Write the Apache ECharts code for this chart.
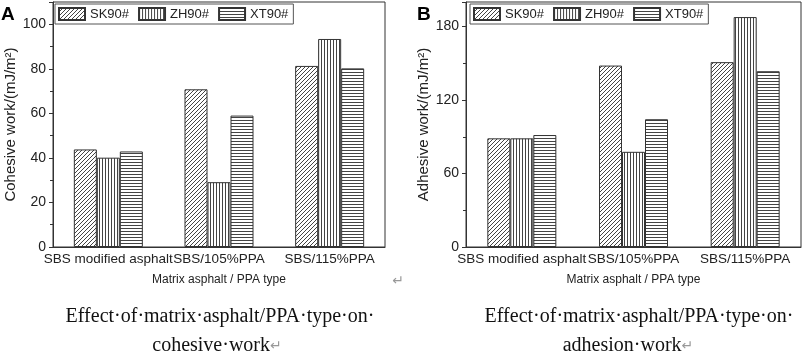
<!DOCTYPE html>
<html>
<head>
<meta charset="utf-8">
<script src="https://cdn.jsdelivr.net/npm/echarts@6/dist/echarts.min.js"></script>
<style>
  html, body { margin: 0; padding: 0; background: #fff; }
  #main { width: 803px; height: 363px; }
</style>
</head>
<body>
<div id="main"></div>
<script>
// data
const categories = ['SBS modified asphalt', 'SBS/105%PPA', 'SBS/115%PPA'];
const seriesNames = ['SK90#', 'ZH90#', 'XT90#'];
const cohesiveSK = [43.8, 70.8, 81.3];
const cohesiveZH = [40.1, 29.1, 93.4];
const cohesiveXT = [42.9, 59.0, 80.2];
const adhesionSK = [88.7, 148.1, 150.9];
const adhesionZH = [88.7, 77.7, 187.7];
const adhesionXT = [91.4, 104.3, 143.5];
const cohesiveTicks = { min: 0, max: 110, interval: 20 };
const adhesionTicks = { min: 0, max: 200, interval: 60 };

// hatch fills
function makePattern(kind) {
  const c = document.createElement('canvas');
  const ctx = c.getContext('2d');
  if (kind === 'diag') {
    c.width = c.height = 4;
    ctx.fillStyle = '#fff'; ctx.fillRect(0, 0, 4, 4);
    ctx.fillStyle = '#444';
    for (let i = 0; i < 4; i++) ctx.fillRect(i, 3 - i, 1, 1);
  } else if (kind === 'vert') {
    c.width = 3; c.height = 3;
    ctx.fillStyle = '#fff'; ctx.fillRect(0, 0, 3, 3);
    ctx.fillStyle = '#444'; ctx.fillRect(0, 0, 1, 3);
  } else {
    c.width = 3; c.height = 3;
    ctx.fillStyle = '#fff'; ctx.fillRect(0, 0, 3, 3);
    ctx.fillStyle = '#444'; ctx.fillRect(0, 0, 3, 1);
  }
  return { image: c, repeat: 'repeat' };
}
const fills = [makePattern('diag'), makePattern('vert'), makePattern('horz')];

const chart = echarts.init(document.getElementById('main'));

const fontFam = 'Arial, Liberation Sans';

function xAxisFor(idx) {
  return {
    type: 'category', gridIndex: idx, data: categories,
    axisLine: { lineStyle: { color: '#333' } },
    axisTick: { show: false },
    axisLabel: { fontFamily: fontFam, fontSize: 13.5, color: '#222', margin: 5, interval: 0 },
    name: 'Matrix asphalt / PPA type', nameLocation: 'middle', nameGap: 27,
    nameTextStyle: { fontFamily: fontFam, fontSize: 12, color: '#222' }
  };
}
function yAxisFor(idx, ticks, title) {
  return {
    type: 'value', gridIndex: idx, min: ticks.min, max: ticks.max, interval: ticks.interval,
    axisLine: { show: true, lineStyle: { color: '#333' } },
    axisTick: { show: true, inside: false, length: 4, lineStyle: { color: '#333' } },
    minorTick: { show: true, splitNumber: 2, length: 3, lineStyle: { color: '#333' } },
    splitLine: { show: false },
    axisLabel: { fontFamily: fontFam, fontSize: 14, color: '#222', margin: 7, showMaxLabel: false },
    name: title, nameLocation: 'middle', nameGap: 33,
    nameTextStyle: { fontFamily: fontFam, fontSize: 15, color: '#222' }
  };
}
function barSeries(name, data, i, gridIdx) {
  return {
    name: name, type: 'bar', data: data,
    xAxisIndex: gridIdx, yAxisIndex: gridIdx,
    barWidth: 23, barGap: '0%',
    itemStyle: { color: fills[i], borderColor: '#333', borderWidth: 1 },
    emphasis: { disabled: true }
  };
}
function legendFor(left) {
  return {
    left: left, top: 4, orient: 'horizontal',
    data: seriesNames, icon: 'rect',
    itemWidth: 26, itemHeight: 12, itemGap: 9,
    padding: [3, 5, 3, 3],
    borderColor: '#555', borderWidth: 1,
    textStyle: { fontFamily: fontFam, fontSize: 13, color: '#222' },
    selectedMode: false
  };
}

const option = {
  animation: false,
  backgroundColor: '#fff',
  grid: [
    { left: 53, right: 418, top: 2, bottom: 116, show: true, borderColor: '#333', borderWidth: 1, backgroundColor: 'transparent' },
    { left: 466, right: 2, top: 2, bottom: 116, show: true, borderColor: '#333', borderWidth: 1, backgroundColor: 'transparent' }
  ],
  legend: [legendFor(55), legendFor(470)],
  xAxis: [xAxisFor(0), xAxisFor(1)],
  yAxis: [
    yAxisFor(0, cohesiveTicks, 'Cohesive work/(mJ/m²)'),
    yAxisFor(1, adhesionTicks, 'Adhesive work/(mJ/m²)')
  ],
  series: [
    barSeries(seriesNames[0], cohesiveSK, 0, 0),
    barSeries(seriesNames[1], cohesiveZH, 1, 0),
    barSeries(seriesNames[2], cohesiveXT, 2, 0),
    barSeries(seriesNames[0], adhesionSK, 0, 1),
    barSeries(seriesNames[1], adhesionZH, 1, 1),
    barSeries(seriesNames[2], adhesionXT, 2, 1)
  ],
  graphic: [
    { type: 'text', left: 1, top: 5, style: { text: 'A', font: 'bold 19px Arial, Liberation Sans', fill: '#000' } },
    { type: 'text', left: 417, top: 5, style: { text: 'B', font: 'bold 19px Arial, Liberation Sans', fill: '#000' } },
    { type: 'text', x: 398, y: 281, style: { text: '↵', font: '14px DejaVu Sans', fill: '#999', align: 'center', verticalAlign: 'middle' } },
    { type: 'text', x: 220, y: 317, style: { text: 'Effect·of·matrix·asphalt/PPA·type·on·', font: '20px Liberation Serif', fill: '#111', align: 'center', verticalAlign: 'middle' } },
    { type: 'text', x: 217, y: 346, style: { text: 'cohesive·work{g|↵}', font: '20px Liberation Serif', fill: '#111', align: 'center', verticalAlign: 'middle', rich: { g: { fill: '#999', font: '14px DejaVu Sans' } } } },
    { type: 'text', x: 639, y: 317, style: { text: 'Effect·of·matrix·asphalt/PPA·type·on·', font: '20px Liberation Serif', fill: '#111', align: 'center', verticalAlign: 'middle' } },
    { type: 'text', x: 628, y: 346, style: { text: 'adhesion·work{g|↵}', font: '20px Liberation Serif', fill: '#111', align: 'center', verticalAlign: 'middle', rich: { g: { fill: '#999', font: '14px DejaVu Sans' } } } }
  ]
};
chart.setOption(option);
</script>
</body>
</html>
